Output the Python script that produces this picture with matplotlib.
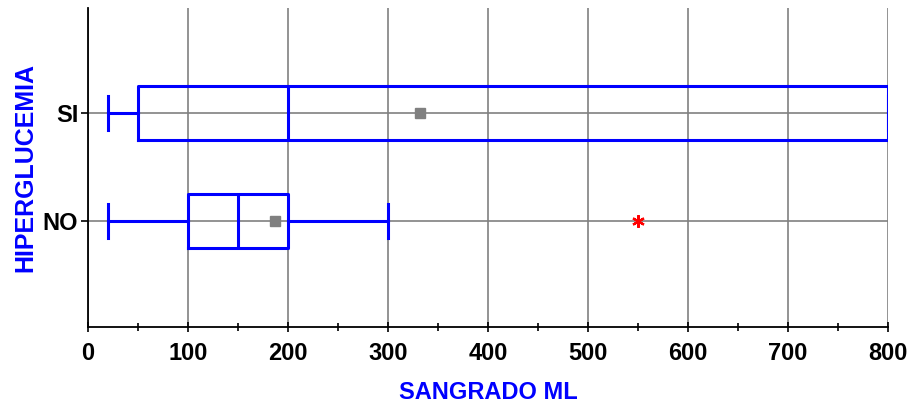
import matplotlib
matplotlib.use("Agg")
import matplotlib.pyplot as plt
from matplotlib.ticker import MultipleLocator

# data
categories = ["NO", "SI"]
whisker_low = [20, 20]
q1 = [100, 50]
median = [150, 200]
q3 = [200, 800]
whisker_high = [300, 800]
means = [187, 332]
outliers = [[550], []]

x_ticks = [0, 100, 200, 300, 400, 500, 600, 700, 800]

plt.rcParams["font.family"] = ["Liberation Sans", "DejaVu Sans"]
plt.rcParams["font.weight"] = "bold"

blue = "#0000ff"
grey = "#808080"

stats = []
for i, cat in enumerate(categories):
    stats.append({
        "label": cat,
        "whislo": whisker_low[i],
        "q1": q1[i],
        "med": median[i],
        "q3": q3[i],
        "whishi": whisker_high[i],
        "mean": means[i],
        "fliers": outliers[i],
    })

fig = plt.figure(figsize=(9.14, 4.07), dpi=100)
ax = fig.add_axes([0.0963, 0.1966, 0.8753, 0.7837])

lw = 2.2
ax.bxp(
    stats,
    positions=[1, 2],
    orientation="horizontal",
    widths=0.5,
    capwidths=0.32,
    showmeans=True,
    boxprops=dict(color=blue, linewidth=lw),
    medianprops=dict(color=blue, linewidth=lw),
    whiskerprops=dict(color=blue, linewidth=lw),
    capprops=dict(color=blue, linewidth=lw),
    meanprops=dict(marker="s", markerfacecolor=grey, markeredgecolor=grey, markersize=7),
    flierprops=dict(marker=(6, 2, 0), markerfacecolor="red", markeredgecolor="red",
                    markersize=9, markeredgewidth=1.6),
    zorder=3,
)

ax.set_xlim(0, 800)
ax.set_ylim(0.02, 2.97)
ax.set_xticks(x_ticks)
ax.xaxis.set_minor_locator(MultipleLocator(50))
ax.set_yticks([1, 2])
ax.set_yticklabels(categories)

ax.grid(True, which="major", color=grey, linewidth=1.2, zorder=0)
ax.set_axisbelow(True)

for side in ["top", "right"]:
    ax.spines[side].set_visible(False)
for side in ["left", "bottom"]:
    ax.spines[side].set_linewidth(1.3)

ax.tick_params(axis="x", which="major", direction="inout", length=7, width=1.2, labelsize=17, pad=7)
ax.tick_params(axis="x", which="minor", direction="inout", length=6, width=1.2)
ax.tick_params(axis="y", direction="out", length=5, width=1.2, labelsize=17, pad=2)

ax.set_xlabel("SANGRADO ML", color=blue, fontsize=17, fontweight="bold", labelpad=12)
ax.set_ylabel("HIPERGLUCEMIA", color=blue, fontsize=18, fontweight="bold", labelpad=4)

fig.savefig("out.png", dpi=100)
